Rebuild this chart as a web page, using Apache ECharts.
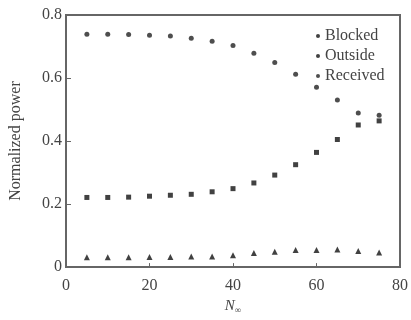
<!DOCTYPE html>
<html>
<head>
<meta charset="utf-8">
<script src="https://cdn.jsdelivr.net/npm/echarts@6/dist/echarts.min.js"></script>
<style>
  html, body { margin: 0; padding: 0; background: #fff; }
  #main { width: 411px; height: 320px; }
</style>
</head>
<body>
<div id="main"></div>
<script>
// N values along the x axis
var nValues = [5, 10, 15, 20, 25, 30, 35, 40, 45, 50, 55, 60, 65, 70, 75];
var blocked = [0.031, 0.031, 0.031, 0.032, 0.032, 0.034, 0.034, 0.038, 0.045, 0.049, 0.054, 0.054, 0.056, 0.051, 0.046];
var outside = [0.221, 0.221, 0.222, 0.225, 0.228, 0.231, 0.239, 0.249, 0.267, 0.292, 0.325, 0.364, 0.405, 0.451, 0.464];
var received = [0.739, 0.739, 0.738, 0.736, 0.733, 0.726, 0.717, 0.703, 0.679, 0.649, 0.612, 0.571, 0.530, 0.489, 0.482];
var seriesNames = ['Blocked', 'Outside', 'Received'];

var font = 'Liberation Serif';
var axisColor = '#666';
var textColor = '#444';

function pairs(ys) {
    return nValues.map(function (x, i) { return [x, ys[i]]; });
}

var dom = document.getElementById('main');
var myChart = echarts.init(dom, null, { renderer: 'canvas' });

var option = {
    animation: false,
    grid: {
        left: 60, right: 9, top: 15, bottom: 45,
        show: true,
        borderColor: axisColor,
        borderWidth: 2
    },
    legend: {
        orient: 'vertical',
        left: 311,
        top: 23,
        itemWidth: 6,
        itemHeight: 4,
        itemGap: 4,
        data: seriesNames.map(function (n) { return { name: n, icon: 'circle' }; }),
        textStyle: { fontFamily: font, fontSize: 16, color: textColor, padding: [0, 0, 0, -1] }
    },
    xAxis: {
        type: 'value',
        min: 0, max: 80, interval: 20,
        name: '{n|N}{s|∞}',
        nameLocation: 'middle',
        nameGap: 28,
        nameTextStyle: {
            rich: {
                n: { fontFamily: font, fontStyle: 'italic', fontSize: 15, color: textColor },
                s: { fontFamily: font, fontSize: 9, color: textColor, padding: [8, 0, 0, 0] }
            }
        },
        axisLine: { lineStyle: { color: axisColor, width: 2 } },
        axisTick: { inside: true, length: 4, lineStyle: { color: axisColor } },
        axisLabel: { fontFamily: font, fontSize: 16, color: textColor, margin: 11 },
        splitLine: { show: false }
    },
    yAxis: {
        type: 'value',
        min: 0, max: 0.8, interval: 0.2,
        name: 'Normalized power',
        nameLocation: 'middle',
        nameGap: 42,
        nameTextStyle: { fontFamily: font, fontSize: 16, color: textColor },
        axisLine: { lineStyle: { color: axisColor, width: 2 } },
        axisTick: { inside: true, length: 5, lineStyle: { color: axisColor } },
        axisLabel: {
            fontFamily: font, fontSize: 16, color: textColor, margin: 4,
            formatter: function (v) { return v === 0 ? '0' : v.toFixed(1); }
        },
        splitLine: { show: false }
    },
    series: [
        {
            name: 'Blocked', type: 'scatter', symbol: 'triangle', symbolSize: 6,
            itemStyle: { color: '#111' }, data: pairs(blocked)
        },
        {
            name: 'Outside', type: 'scatter', symbol: 'rect', symbolSize: 5,
            itemStyle: { color: '#111' }, data: pairs(outside)
        },
        {
            name: 'Received', type: 'scatter', symbol: 'circle', symbolSize: 5,
            itemStyle: { color: '#222' }, data: pairs(received)
        }
    ]
};

myChart.setOption(option);
window.addEventListener('resize', myChart.resize);
</script>
</body>
</html>
